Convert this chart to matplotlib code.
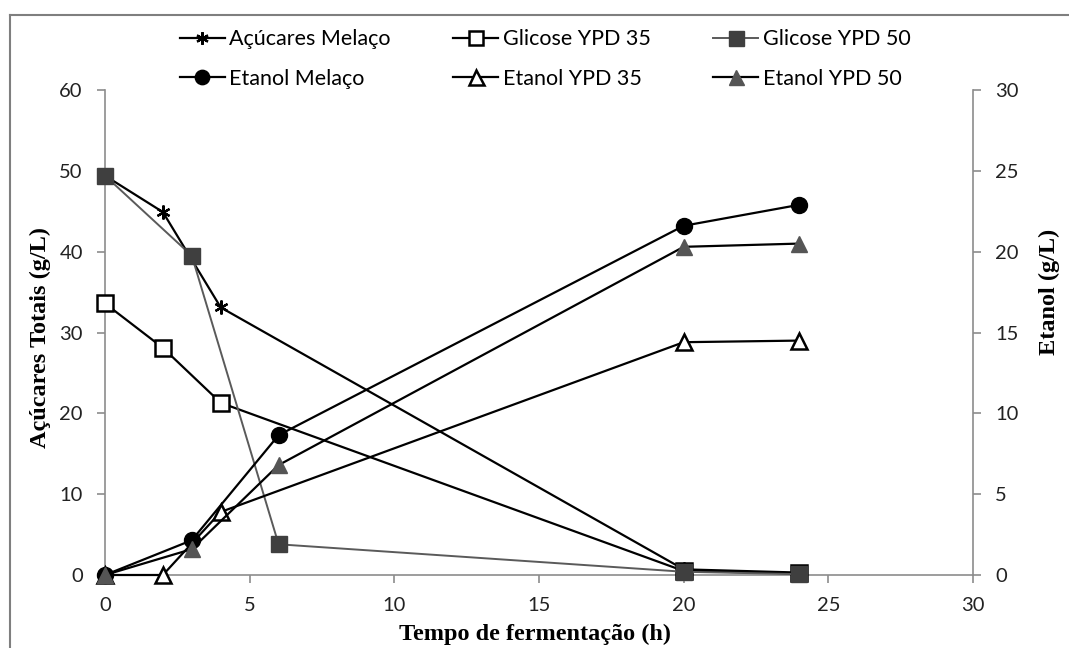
import matplotlib.pyplot as plt
from matplotlib.lines import Line2D

# tempo (h)
t_acucar = [0, 2, 4, 20, 24]
t_gli35 = [0, 2, 4, 20, 24]
t_gli50 = [0, 3, 6, 20, 24]
t_etmel = [0, 3, 6, 20, 24]
t_et35 = [0, 2, 4, 20, 24]
t_et50 = [0, 3, 6, 20, 24]

# acucares (g/L) - eixo esquerdo
acucar_melaco = [49.4, 44.9, 33.1, 0.7, 0.3]
glicose_ypd35 = [33.6, 28.1, 21.3, 0.5, 0.2]
glicose_ypd50 = [49.4, 39.5, 3.8, 0.4, 0.1]

# etanol (g/L) - eixo direito
etanol_melaco = [0, 2.15, 8.65, 21.6, 22.9]
etanol_ypd35 = [0, 0, 3.9, 14.4, 14.5]
etanol_ypd50 = [0, 1.6, 6.8, 20.3, 20.5]

tick_font = 'Lato'
label_font = 'Liberation Serif'
axis_gray = '#8c8c8c'

fig = plt.figure(figsize=(10.69, 6.48), dpi=100)
ax = fig.add_axes([105 / 1069, 1 - 575 / 648, (973 - 105) / 1069, (575 - 90) / 648])
ax2 = ax.twinx()

ax.plot(t_acucar, acucar_melaco, color='black', lw=1.6, marker=(6, 2, 0),
        ms=10, mew=1.6, label='Açúcares Melaço', zorder=3)
ax.plot(t_gli35, glicose_ypd35, color='black', lw=1.6, marker='s', ms=11,
        mfc='white', mec='black', mew=1.8, label='Glicose YPD 35', zorder=3)
ax.plot(t_gli50, glicose_ypd50, color='#5a5a5a', lw=1.4, marker='s', ms=12,
        mfc='#3f3f3f', mec='#3f3f3f', label='Glicose YPD 50', zorder=3)

ax2.plot(t_etmel, etanol_melaco, color='black', lw=1.6, marker='o', ms=11.5,
         mfc='black', mec='black', label='Etanol Melaço')
ax2.plot(t_et35, etanol_ypd35, color='black', lw=1.6, marker='^', ms=12,
         mfc='white', mec='black', mew=1.8, label='Etanol YPD 35')
ax2.plot(t_et50, etanol_ypd50, color='black', lw=1.6, marker='^', ms=12,
         mfc='#555555', mec='#555555', label='Etanol YPD 50')

ax.set_xlim(0, 30)
ax.set_ylim(0, 60)
ax2.set_ylim(0, 30)
ax.set_xticks(range(0, 31, 5))
ax.set_yticks(range(0, 61, 10))
ax2.set_yticks(range(0, 31, 5))

for a in (ax, ax2):
    a.spines['top'].set_visible(False)
    for s in ('left', 'right', 'bottom'):
        a.spines[s].set_color(axis_gray)
        a.spines[s].set_linewidth(1.2)
    a.tick_params(direction='out', length=6, width=1.2, color=axis_gray,
                  labelsize=14.5, pad=10, labelcolor='#222222')
    for lab in a.get_xticklabels() + a.get_yticklabels():
        lab.set_fontfamily(tick_font)
ax.spines['right'].set_visible(False)
ax2.spines['left'].set_visible(False)
ax2.spines['bottom'].set_visible(False)
for ln in ax.lines + ax2.lines:
    ln.set_clip_on(False)

fig.text(535 / 1069, 1 - 634 / 648, 'Tempo de fermentação (h)',
         ha='center', va='center', fontsize=17.5, fontweight='bold', family=label_font)
fig.text(40 / 1069, 1 - 338 / 648, 'Açúcares Totais (g/L)', rotation=90,
         ha='center', va='center', fontsize=17.5, fontweight='bold', family=label_font)
fig.text(1049 / 1069, 1 - 292 / 648, 'Etanol (g/L)', rotation=90,
         ha='center', va='center', fontsize=17.5, fontweight='bold', family=label_font)

# legenda: preenchida por coluna
h1, l1 = ax.get_legend_handles_labels()
h2, l2 = ax2.get_legend_handles_labels()
handles = [h1[0], h2[0], h1[1], h2[1], h1[2], h2[2]]
labels = [l1[0], l2[0], l1[1], l2[1], l1[2], l2[2]]
fig.legend(handles, labels, ncol=3, loc='center', bbox_to_anchor=(545 / 1069, 1 - 59 / 648),
           frameon=False, prop={'family': tick_font, 'size': 15.5}, handlelength=2.1,
           handletextpad=0.2, columnspacing=2.9, labelspacing=0.9, borderpad=0,
           markerscale=0.9)

# moldura externa
fig.add_artist(Line2D([10 / 1069, 10 / 1069], [0, 1 - 15 / 648], transform=fig.transFigure,
                      color='#7f7f7f', lw=1.5))
fig.add_artist(Line2D([10 / 1069, 1], [1 - 15 / 648, 1 - 15 / 648], transform=fig.transFigure,
                      color='#7f7f7f', lw=1.5))

fig.savefig('out.png', dpi=100)
